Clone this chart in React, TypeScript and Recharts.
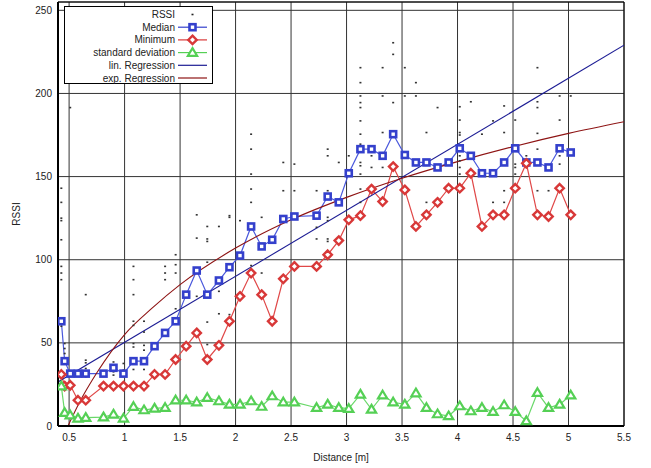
import {
  ComposedChart,
  XAxis,
  YAxis,
  CartesianGrid,
  Line,
  Scatter,
  Legend,
  ReferenceArea,
} from "recharts";

// measurement distances [m]
const distances = [
  0.43, 0.46, 0.51, 0.58, 0.65, 0.81, 0.9, 0.99, 1.08, 1.175, 1.27, 1.365, 1.46, 1.555, 1.65, 1.745,
  1.85, 1.945, 2.04, 2.14, 2.235, 2.33, 2.43, 2.53, 2.73, 2.83, 2.93, 3.02, 3.125, 3.225, 3.325, 3.42,
  3.525, 3.625, 3.72, 3.82, 3.92, 4.02, 4.12, 4.22, 4.32, 4.42, 4.52, 4.62, 4.72, 4.82, 4.92, 5.02,
];

const medianRssi = [
  63, 39, 31.5, 31.5, 31.5, 31.5, 35, 31.5, 39, 39, 48, 56, 63, 79, 93.5, 79,
  87.5, 95.5, 102.5, 120, 108, 112, 124.5, 126, 126.5, 138, 134.5, 152, 166.5, 166.5, 162.5, 175.5,
  163, 158.5, 158.5, 155.5, 158.5, 167, 162.5, 152, 152, 158.5, 167, 158.5, 158.5, 155.5, 167, 164.5,
];

const minimumRssi = [
  31, 24, 24.5, 15.5, 15.5, 24, 24, 24, 24, 24, 31, 31, 40, 48, 56, 40,
  48.5, 63, 78, 92, 79, 63, 88.5, 96, 96, 103, 111.5, 124, 126.5, 142.5, 135, 156,
  142, 120, 127, 134.5, 143, 143, 152, 120, 127, 127, 143, 158, 127, 126, 143, 127,
];

const stdDeviation = [
  24, 8, 6.5, 4.6, 5, 5.3, 7, 4.6, 11.6, 9.6, 10.6, 11, 15.5, 15.5, 14.3, 17,
  15, 13, 13, 15, 11.7, 18, 14.3, 14.3, 11, 13, 11, 10.4, 19, 10, 18.5, 14.3,
  13, 19.8, 11, 7.2, 6, 12, 9, 11, 8.6, 12.6, 8.6, 3, 20, 11, 13, 18.5,
];

// raw samples [distance, rssi]
const rssiSamples: [number, number][] = [
  [0.43, 143], [0.43, 134.5], [0.43, 125], [0.43, 123.5], [0.43, 112], [0.43, 96], [0.43, 92], [0.43, 88], [0.43, 60],
  [0.46, 49.6], [0.46, 46.6], [0.46, 43.6],
  [0.51, 191.5],
  [0.65, 79], [0.65, 39.6], [0.65, 38], [0.65, 34.6], [0.65, 29.6],
  [0.9, 38.5], [0.9, 32.6], [0.9, 30.6],
  [0.99, 37.6], [0.99, 33.6],
  [1.08, 96], [1.08, 88], [1.08, 79], [1.08, 63], [1.08, 60.5], [1.08, 49.6], [1.08, 47.5], [1.08, 34],
  [1.175, 63], [1.175, 56.5], [1.175, 48.5], [1.175, 45.6], [1.175, 34],
  [1.365, 96], [1.365, 92], [1.365, 88],
  [1.46, 103], [1.46, 97], [1.46, 92], [1.46, 70.5],
  [1.65, 127], [1.65, 113], [1.65, 78],
  [1.745, 120], [1.745, 112.5], [1.745, 111], [1.745, 98.5], [1.745, 62.5], [1.745, 49],
  [1.85, 120], [1.85, 81], [1.85, 67.5],
  [1.945, 126.5], [1.945, 125.5], [1.945, 67],
  [2.04, 123.5],
  [2.14, 175.5], [2.14, 166.5], [2.14, 151.5], [2.14, 142.5], [2.14, 134.5], [2.14, 96.5],
  [2.235, 125.5], [2.235, 92],
  [2.43, 158.5], [2.43, 141.5],
  [2.53, 157.5], [2.53, 141.5],
  [2.73, 141.5], [2.73, 119.5], [2.73, 112.5],
  [2.83, 166.5], [2.83, 162.5], [2.83, 141.5], [2.83, 125.5], [2.83, 123.5], [2.83, 112.5], [2.83, 111],
  [2.93, 158.5],
  [3.02, 162.5],
  [3.125, 215.5], [3.125, 206.5], [3.125, 198.5], [3.125, 194.5], [3.125, 191.5], [3.125, 183.5], [3.125, 175.5],
  [3.125, 169.5], [3.125, 158.5], [3.125, 156.5], [3.125, 151.5], [3.125, 142.5], [3.125, 134.5],
  [3.225, 162.5], [3.225, 155.5],
  [3.325, 215.5], [3.325, 198.5], [3.325, 176.5], [3.325, 155.5],
  [3.42, 230.5], [3.42, 223.5], [3.42, 194.5],
  [3.525, 215.5], [3.525, 198.5],
  [3.625, 206.5], [3.625, 198.5],
  [3.72, 176.5], [3.72, 134.5],
  [3.82, 191.5],
  [4.02, 192], [4.02, 184], [4.02, 176.5], [4.02, 175], [4.02, 162.5], [4.02, 159.5], [4.02, 155.5], [4.02, 151.5],
  [4.12, 195],
  [4.22, 175.5],
  [4.32, 183.5], [4.32, 134.5],
  [4.42, 192.5], [4.42, 176.5], [4.42, 141.5], [4.42, 134.5],
  [4.52, 184], [4.52, 157.5], [4.52, 155.5], [4.52, 151.5],
  [4.62, 162.5],
  [4.72, 215.5], [4.72, 195], [4.72, 191.5], [4.72, 176], [4.72, 166.5], [4.72, 141.5],
  [4.82, 141.5],
  [4.92, 198.5], [4.92, 184], [4.92, 162.5], [4.92, 157.5],
  [5.02, 198.5],
];

const linRegression: [number, number][] = [
  [0.4, 26.5],
  [5.5, 229],
];

const expRegression: [number, number][] = [
  [0.49, 0], [0.6, 15], [0.75, 32], [1, 55], [1.25, 71], [1.5, 85], [2, 107], [2.5, 124],
  [3, 137.5], [3.5, 149], [4, 159], [4.5, 168], [5, 176], [5.5, 183],
];

const xTicks = [0.5, 1, 1.5, 2, 2.5, 3, 3.5, 4, 4.5, 5, 5.5];
const yTicks = [0, 50, 100, 150, 200, 250];

const MEDIAN = "#3440cc";
const MINIMUM = "#d83838";
const STDDEV = "#55d055";
const LIN = "#1c1c94";
const EXP = "#8e1414";

const series = (ys: number[]) => distances.map((x, i) => ({ x, y: ys[i] }));
const pairs = (pts: [number, number][]) => pts.map(([x, y]) => ({ x, y }));

function squareMark(cx: number, cy: number, key?: any) {
  return <rect key={key} x={cx - 3} y={cy - 3} width={6} height={6} fill="#fff" stroke={MEDIAN} strokeWidth={2.6} />;
}
function diamondMark(cx: number, cy: number, key?: any) {
  return (
    <path key={key} d={`M${cx},${cy - 4.2}L${cx + 4.2},${cy}L${cx},${cy + 4.2}L${cx - 4.2},${cy}Z`}
      fill="#fff" stroke={MINIMUM} strokeWidth={2.4} />
  );
}
function triangleMark(cx: number, cy: number, key?: any) {
  return (
    <path key={key} d={`M${cx},${cy - 4.5}L${cx + 4.6},${cy + 3.2}L${cx - 4.6},${cy + 3.2}Z`}
      fill="#fff" stroke={STDDEV} strokeWidth={2.2} />
  );
}

const legendRows = [
  { label: "RSSI", color: "#222", kind: "dot" },
  { label: "Median", color: MEDIAN, kind: "square" },
  { label: "Minimum", color: MINIMUM, kind: "diamond" },
  { label: "standard deviation", color: STDDEV, kind: "triangle" },
  { label: "lin. Regression", color: LIN, kind: "line" },
  { label: "exp. Regression", color: EXP, kind: "line" },
];

function LegendBox() {
  return (
    <svg width={149} height={78} style={{ display: "block" }}>
      <rect x={0.5} y={0.5} width={148} height={77} fill="#fff" stroke="#000" />
      {legendRows.map((r, i) => {
        const y = 8.5 + i * 12.7;
        const cx = 128.5;
        return (
          <g key={r.label}>
            <text x={111} y={y} dy="0.35em" textAnchor="end" fontSize={10} fill="#222"
              fontFamily="'Liberation Sans', Arial, sans-serif">
              {r.label}
            </text>
            {r.kind !== "dot" && <line x1={114} x2={143} y1={y} y2={y} stroke={r.color} strokeWidth={1.2} />}
            {r.kind === "dot" && <rect x={cx - 1} y={y - 0.8} width={2} height={1.6} fill="#222" />}
            {r.kind === "square" && squareMark(cx, y)}
            {r.kind === "diamond" && diamondMark(cx, y)}
            {r.kind === "triangle" && triangleMark(cx, y)}
          </g>
        );
      })}
    </svg>
  );
}

export default function App() {
  return (
    <div style={{ position: "absolute", left: 0, top: 0, background: "#fff", fontFamily: "'Liberation Sans', Arial, sans-serif" }}>
      <ComposedChart width={651} height={468} margin={{ top: 2, right: 27, bottom: 0, left: 0 }}>
        <CartesianGrid stroke="#333" strokeWidth={1} />
        <XAxis
          type="number"
          dataKey="x"
          domain={[0.4, 5.5]}
          ticks={xTicks}
          allowDataOverflow
          tickLine={false}
          axisLine={{ stroke: "#000", strokeWidth: 2 }}
          tick={{ fontSize: 10, fill: "#222" }}
          height={42}
          label={{ value: "Distance [m]", position: "insideBottom", offset: 7, fontSize: 10, fill: "#222" }}
        />
        <YAxis
          type="number"
          domain={[0, 255]}
          ticks={yTicks}
          allowDataOverflow
          tickLine={false}
          tickMargin={0}
          axisLine={{ stroke: "#000", strokeWidth: 2 }}
          tick={{ fontSize: 10, fill: "#222" }}
          width={58}
          label={{ value: "RSSI", angle: -90, position: "insideLeft", offset: 16, fontSize: 10, fill: "#222", style: { textAnchor: "middle" } }}
        />
        <ReferenceArea x1={0.4} x2={5.5} y1={0} y2={255} fill="none" stroke="#000" strokeWidth={1} ifOverflow="visible" />
        <Scatter
          name="RSSI"
          data={pairs(rssiSamples)}
          dataKey="y"
          isAnimationActive={false}
          shape={(p: any) => <rect x={p.cx - 1} y={p.cy - 0.8} width={2} height={1.6} fill="#333" />}
        />
        <Line
          name="Median"
          data={series(medianRssi)}
          dataKey="y"
          stroke="#4a58dc"
          strokeWidth={1.2}
          dot={(p: any) => squareMark(p.cx, p.cy, p.key ?? p.index)}
          isAnimationActive={false}
        />
        <Line
          name="Minimum"
          data={series(minimumRssi)}
          dataKey="y"
          stroke="#e04848"
          strokeWidth={1.2}
          dot={(p: any) => diamondMark(p.cx, p.cy, p.key ?? p.index)}
          isAnimationActive={false}
        />
        <Line
          name="standard deviation"
          data={series(stdDeviation)}
          dataKey="y"
          stroke="#6ad86a"
          strokeWidth={1.2}
          dot={(p: any) => triangleMark(p.cx, p.cy, p.key ?? p.index)}
          isAnimationActive={false}
        />
        <Line
          name="lin. Regression"
          data={pairs(linRegression)}
          dataKey="y"
          stroke={LIN}
          strokeWidth={1.1}
          dot={false}
          isAnimationActive={false}
        />
        <Line
          name="exp. Regression"
          type="monotone"
          data={pairs(expRegression)}
          dataKey="y"
          stroke={EXP}
          strokeWidth={1.1}
          dot={false}
          isAnimationActive={false}
        />
        <Legend
          layout="vertical"
          align="center"
          verticalAlign="middle"
          content={() => <LegendBox />}
          wrapperStyle={{ left: 64, top: 6, width: 149, height: 78, right: "auto", bottom: "auto" }}
        />
      </ComposedChart>
    </div>
  );
}
